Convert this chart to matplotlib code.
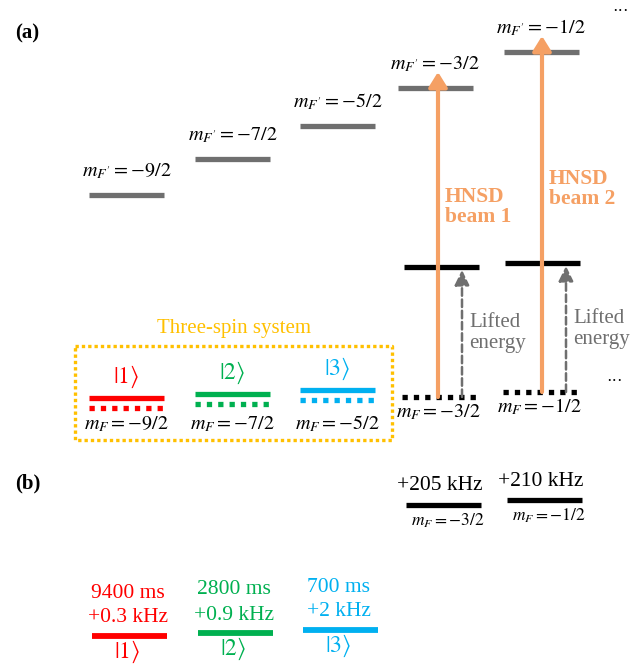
import matplotlib.pyplot as plt

plt.rcParams['font.family'] = ['Liberation Serif', 'DejaVu Serif']
plt.rcParams['mathtext.fontset'] = 'stix'

# excited hyperfine levels m_F' (centre x, y in pixel frame)
excited_mf = ['-9/2', '-7/2', '-5/2', '-3/2', '-1/2']
excited_x = [126.5, 232.5, 337.5, 435, 541]
excited_y = [195, 159, 126, 88, 52]

# three-spin ground levels
spin_names = ['1', '2', '3']
spin_mf = ['-9/2', '-7/2', '-5/2']
spin_colors = ['#ff0000', '#00b050', '#00b0f0']
spin_x = [126.5, 232.5, 337.5]
spin_y = [398, 394, 390]
spin_t2 = ['9400 ms', '2800 ms', '700 ms']
spin_shift = ['+0.3 kHz', '+0.9 kHz', '+2 kHz']
spin_b_x = [129.5, 235.5, 340.5]
spin_b_y = [636, 633, 630]

# lifted levels
lift_mf = ['-3/2', '-1/2']
lift_x = [440, 541]
lift_ground_y = [397, 392]
lift_top_y = [267, 263]
beam_x = [438, 542]
dash_x = [462, 566]
beam_text_y = [207, 189]
lift_shift = ['+205 kHz', '+210 kHz']
lift_b_x = [443.5, 544.5]
lift_b_y = [505, 500]
beam_names = ['HNSD\nbeam 1', 'HNSD\nbeam 2']

W = 75
gray = '#6f6f6f'
orange = '#f5a064'
gold = '#ffc000'
dot = (0, (1, 1.15))

fig = plt.figure(figsize=(6.39, 6.66), dpi=100)
ax = fig.add_axes([0, 0, 1, 1])
ax.set_xlim(0, 639)
ax.set_ylim(666, 0)
ax.axis('off')

def bar(x, y, c, ls='-', lw=3.8):
    ax.plot([x - W / 2, x + W / 2], [y, y], color=c, lw=lw, ls=ls,
            solid_capstyle='butt', dash_capstyle='butt')

ax.text(15, 33, '(a)', fontsize=15, fontweight='bold', va='center')
ax.text(15, 483, '(b)', fontsize=15, fontweight='bold', va='center')

# excited levels
for mf, x, y in zip(excited_mf, excited_x, excited_y):
    bar(x, y, gray)
    ax.text(x, y - 24, r"$m_{F'} = %s$" % mf, fontsize=14.5,
            ha='center', va='center')
ax.text(620, 12, '\u00b7\u00b7\u00b7', fontsize=12, ha='center', va='center')

# three-spin box
ax.plot([75, 392, 392, 75, 75], [346, 346, 440, 440, 346], color=gold,
        lw=2.4, ls=(0, (1, 0.9)), dash_capstyle='butt')
ax.text(234, 329, 'Three-spin system', fontsize=15, color=gold,
        ha='center', va='center')

for n, mf, c, x, y in zip(spin_names, spin_mf, spin_colors, spin_x, spin_y):
    bar(x, y, c)
    bar(x, y + 10, c, ls=dot)
    ax.text(x, y - 21, r'$|%s\rangle$' % n, fontsize=17, color=c,
            ha='center', va='center')
    ax.text(x, 424, r'$m_F = %s$' % mf, fontsize=14.5, ha='center', va='center')

# lifted levels with beams
for i, (mf, x, yg, yt) in enumerate(zip(lift_mf, lift_x, lift_ground_y, lift_top_y)):
    bar(x - 1, yg, 'black', ls=dot)
    bar(x + 1, yt, 'black')
    ax.text(x - 2, yg + 15, r'$m_F = %s$' % mf, fontsize=14.5,
            ha='center', va='center')
    bx = beam_x[i]
    ax.annotate('', xy=(bx, excited_y[3 + i] - 16), xytext=(bx, yg),
                arrowprops=dict(arrowstyle='-|>,head_length=0.45,head_width=0.28',
                                color=orange, lw=3, shrinkA=0, shrinkB=0,
                                mutation_scale=20))
    dx = dash_x[i]
    ax.annotate('', xy=(dx, yt + 3), xytext=(dx, yg),
                arrowprops=dict(arrowstyle='-|>,head_length=0.45,head_width=0.22',
                                color=gray, lw=1.8, ls=(0, (3, 1.5)),
                                shrinkA=0, shrinkB=0, mutation_scale=20))
    ax.text(dx + 7, yt + 66, 'Lifted\nenergy', fontsize=15, color=gray,
            ha='left', va='center', linespacing=1.15)
    ax.text(bx + 7, beam_text_y[i], beam_names[i], fontsize=15.5, color=orange,
            fontweight='bold', ha='left', va='center', linespacing=1.05)
ax.text(615, 382, '\u00b7\u00b7\u00b7', fontsize=12, ha='center', va='center')

# panel (b)
for s, mf, x, y in zip(lift_shift, lift_mf, lift_b_x, lift_b_y):
    bar(x, y, 'black')
    ax.text(x - 4, y - 19, s, fontsize=15.5, ha='center', va='center')
    ax.text(x + 4, y + 16, r'$m_F = %s$' % mf, fontsize=12.5,
            ha='center', va='center')

for n, c, t2, sh, x, y in zip(spin_names, spin_colors, spin_t2, spin_shift,
                              spin_b_x, spin_b_y):
    bar(x, y, c, lw=4.2)
    ax.text(x - 2, y - 43, t2, fontsize=15.5, color=c, ha='center', va='center')
    ax.text(x - 2, y - 18, sh, fontsize=15.5, color=c, ha='center', va='center')
    ax.text(x - 2, y + 16, r'$|%s\rangle$' % n, fontsize=17, color=c,
            ha='center', va='center')

fig.savefig('out.png', dpi=100)
